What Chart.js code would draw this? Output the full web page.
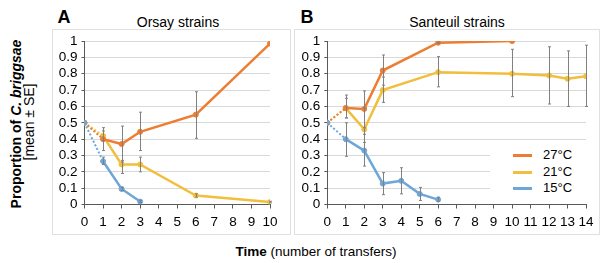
<!DOCTYPE html>
<html>
<head>
<meta charset="utf-8">
<script src="https://cdn.jsdelivr.net/npm/chart.js@4.4.1/dist/chart.umd.min.js"></script>
<style>
  body { margin: 0; background: #fff; font-family: "Liberation Sans", Arial, sans-serif; color: #000; }
  #page { position: relative; width: 600px; height: 263px; overflow: hidden; }
  .box { position: absolute; border: 1px solid #e0e0e0; box-sizing: border-box; }
  .lbl { position: absolute; transform: translate(-50%, -50%); white-space: nowrap; }
  .rot { position: absolute; transform: translate(-50%, -50%) rotate(-90deg); white-space: nowrap; }
  canvas { position: absolute; }
  #legend { position: absolute; left: 490px; top: 143px; width: 108px; height: 56px; background: #fff; }
  .row { position: absolute; left: 23px; height: 16px; font-size: 13px; line-height: 16px; }
  .row span.line { position: absolute; left: 0; top: 7px; width: 19px; height: 3px; }
  .row span.txt { position: absolute; left: 30px; top: 0; }
</style>
</head>
<body>
<div id="page">
  <div class="box" style="left:52px; top:29px; width:239px; height:206px;"></div>
  <div class="box" style="left:294px; top:29px; width:306px; height:206px;"></div>

  <div class="lbl" style="left:64px; top:17px; font-weight:bold; font-size:18px;">A</div>
  <div class="lbl" style="left:178px; top:22px; font-size:14px;">Orsay strains</div>
  <div class="lbl" style="left:307px; top:17px; font-weight:bold; font-size:18px;">B</div>
  <div class="lbl" style="left:457px; top:22px; font-size:14px;">Santeuil strains</div>

  <div class="rot" style="left:16px; top:124px; font-size:14px; font-weight:bold;">Proportion of <i>C. briggsae</i></div>
  <div class="rot" style="left:29px; top:122px; font-size:14px;">[mean ± SE]</div>
  <div class="lbl" style="left:316px; top:251px; font-size:13.5px;"><b>Time</b> (number of transfers)</div>

  <canvas id="chartA" width="239" height="206" style="left:52px; top:29px;"></canvas>
  <canvas id="chartB" width="306" height="206" style="left:294px; top:29px;"></canvas>

  <div id="legend"></div>
</div>

<script>
// Orsay strains (panel A)
const orsayTimes27 = [0, 1, 2, 3, 6, 10];
const orsay27 = [0.5, 0.40, 0.37, 0.445, 0.55, 0.985];
const orsay27Lo = [null, 0.33, 0.26, 0.33, 0.405, null];
const orsay27Hi = [null, 0.47, 0.48, 0.565, 0.69, null];

const orsayTimes21 = [0, 1, 2, 3, 6, 10];
const orsay21 = [0.5, 0.42, 0.245, 0.245, 0.055, 0.015];
const orsay21Lo = [null, 0.39, 0.19, 0.20, 0.045, 0.01];
const orsay21Hi = [null, 0.45, 0.27, 0.29, 0.065, 0.02];

const orsayTimes15 = [0, 1, 2, 3];
const orsay15 = [0.5, 0.265, 0.095, 0.018];
const orsay15Lo = [null, 0.245, 0.085, 0.012];
const orsay15Hi = [null, 0.29, 0.105, 0.025];

// Santeuil strains (panel B)
const santeuilTimes27 = [0, 1, 2, 3, 6, 10];
const santeuil27 = [0.5, 0.59, 0.585, 0.82, 0.99, 1.0];
const santeuil27Lo = [null, 0.53, 0.47, 0.73, 0.985, null];
const santeuil27Hi = [null, 0.67, 0.695, 0.915, 0.995, null];

const santeuilTimes21 = [0, 1, 2, 3, 6, 10, 12, 13, 14];
const santeuil21 = [0.5, 0.59, 0.46, 0.70, 0.81, 0.80, 0.79, 0.77, 0.785];
const santeuil21Lo = [null, 0.53, 0.38, 0.625, 0.72, 0.66, 0.615, 0.60, 0.60];
const santeuil21Hi = [null, 0.65, 0.59, 0.78, 0.905, 0.95, 0.965, 0.94, 0.975];

const santeuilTimes15 = [0, 1, 2, 3, 4, 5, 6];
const santeuil15 = [0.5, 0.40, 0.33, 0.128, 0.145, 0.065, 0.03];
const santeuil15Lo = [null, 0.295, 0.235, 0.06, 0.065, 0.025, 0.02];
const santeuil15Hi = [null, 0.50, 0.43, 0.195, 0.225, 0.105, 0.045];

// y tick labels
const yTicks = [0, 0.1, 0.2, 0.3, 0.4, 0.5, 0.6, 0.7, 0.8, 0.9, 1];

const temps = ['27°C', '21°C', '15°C'];
const colors = ['#ED7D31', '#F2BF3C', '#6EA6D9'];

const axisColor = '#595959';
const gridColor = '#d9d9d9';
const font = { family: '"Liberation Sans", Arial, sans-serif', size: 13.5 };

// draws the SE bars from the lo/hi arrays of each dataset
const errorBars = {
    id: 'errorBars',
    afterDatasetsDraw(chart) {
        const ctx = chart.ctx;
        const x = chart.scales.x, y = chart.scales.y;
        ctx.save();
        ctx.strokeStyle = '#808080';
        ctx.lineWidth = 1;
        chart.data.datasets.forEach(ds => {
            ds.lo.forEach((lo, i) => {
                if (lo === null) return;
                const px = Math.round(x.getPixelForValue(ds.data[i].x)) + 0.5;
                const y1 = y.getPixelForValue(lo);
                const y2 = y.getPixelForValue(ds.hi[i]);
                ctx.beginPath();
                ctx.moveTo(px, y1); ctx.lineTo(px, y2);
                ctx.moveTo(px - 1.5, y1); ctx.lineTo(px + 1.5, y1);
                ctx.moveTo(px - 1.5, y2); ctx.lineTo(px + 1.5, y2);
                ctx.stroke();
            });
        });
        ctx.restore();
    }
};

function series(times, values, lo, hi, k) {
    return {
        label: temps[k],
        data: times.map((t, i) => ({ x: t, y: values[i] })),
        lo: lo,
        hi: hi,
        borderColor: colors[k],
        backgroundColor: colors[k],
        pointBackgroundColor: colors[k],
        pointBorderColor: colors[k],
        borderWidth: 2.5,
        pointRadius: 2.5,
        pointBorderWidth: 1,
        order: [1, 2, 0][k],
        segment: {
            borderDash: c => c.p0DataIndex === 0 ? [2, 2] : undefined,
            borderWidth: c => c.p0DataIndex === 0 ? 2 : undefined
        }
    };
}

function makeChart(id, datasets, xMax, yWidth, padRight) {
    return new Chart(document.getElementById(id).getContext('2d'), {
        type: 'line',
        data: { datasets: datasets },
        options: {
            responsive: false,
            animation: false,
            layout: { padding: { top: 11, right: padRight, left: 0, bottom: 0 } },
            scales: {
                x: {
                    type: 'linear',
                    min: 0,
                    max: xMax,
                    ticks: { stepSize: 1, autoSkip: false, color: '#000', font: font, padding: 6, maxRotation: 0 },
                    grid: { drawOnChartArea: false, tickLength: 4, tickColor: axisColor },
                    border: { color: axisColor, width: 1 },
                    afterFit: s => { s.height = 30.5; }
                },
                y: {
                    min: 0,
                    max: 1,
                    afterBuildTicks: s => { s.ticks = yTicks.map(v => ({ value: v })); },
                    ticks: {
                        autoSkip: false,
                        color: '#000',
                        font: font,
                        padding: 4,
                        callback: v => String(+v.toFixed(1))
                    },
                    grid: { color: gridColor, tickLength: 3, tickColor: axisColor },
                    border: { color: axisColor, width: 1 },
                    afterFit: s => { s.width = yWidth; }
                }
            },
            plugins: {
                legend: { display: false },
                tooltip: { enabled: false }
            }
        },
        plugins: [errorBars]
    });
}

makeChart('chartA', [
    series(orsayTimes27, orsay27, orsay27Lo, orsay27Hi, 0),
    series(orsayTimes21, orsay21, orsay21Lo, orsay21Hi, 1),
    series(orsayTimes15, orsay15, orsay15Lo, orsay15Hi, 2)
], 10, 32.5, 21);

makeChart('chartB', [
    series(santeuilTimes27, santeuil27, santeuil27Lo, santeuil27Hi, 0),
    series(santeuilTimes21, santeuil21, santeuil21Lo, santeuil21Hi, 1),
    series(santeuilTimes15, santeuil15, santeuil15Lo, santeuil15Hi, 2)
], 14, 33.3, 14);

// legend
const legend = document.getElementById('legend');
temps.forEach((t, k) => {
    const row = document.createElement('div');
    row.className = 'row';
    row.style.top = (4 + k * 16.5) + 'px';
    row.innerHTML = '<span class="line" style="background:' + colors[k] + '"></span><span class="txt">' + t + '</span>';
    legend.appendChild(row);
});
</script>
</body>
</html>
